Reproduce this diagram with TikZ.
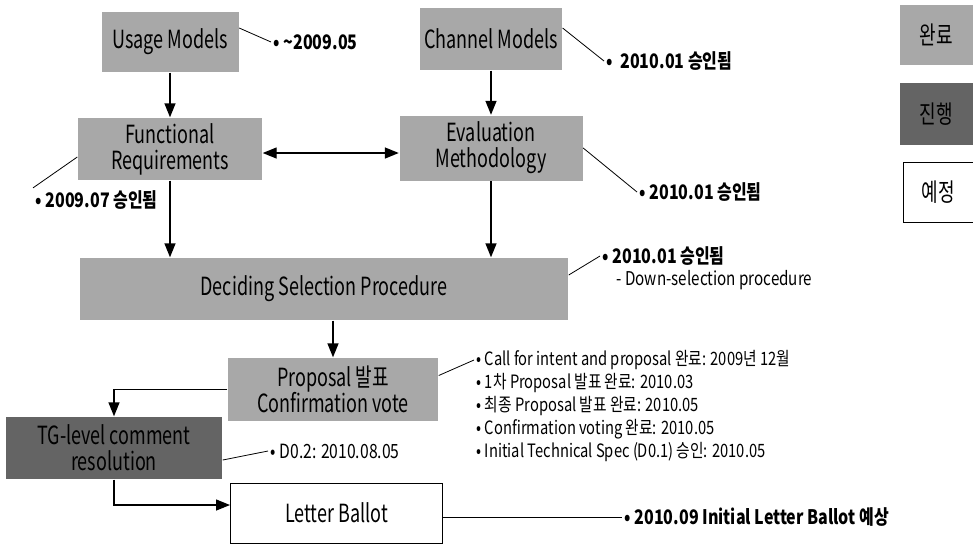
\documentclass[tikz,border=0pt]{standalone}
\usepackage{fontspec}
\setmainfont{Noto Sans CJK KR}[FakeStretch=0.8]
\newfontfamily\boxfont{Noto Sans CJK KR}[FakeStretch=0.72]
\usepackage{tikz}
\usetikzlibrary{arrows.meta, positioning, calc}
\definecolor{donegray}{RGB}{168,168,168}
\definecolor{doinggray}{RGB}{100,100,100}

\begin{document}
\begin{tikzpicture}[x=0.5pt, y=-0.5pt, >={Triangle[length=7pt, width=5.5pt]},
      line width=0.7pt,
      box/.style={rectangle, inner sep=2pt, align=center,
                  font=\boxfont\fontsize{12.5}{13}\selectfont},
      done/.style={box, fill=donegray},
      doing/.style={box, fill=doinggray},
      todo/.style={box, draw=black, line width=0.5pt, fill=white},
      note/.style={anchor=west, inner sep=1pt, font=\fontsize{10}{12}\selectfont\bfseries},
      item/.style={anchor=west, inner sep=1pt, font=\fontsize{9.2}{10}\selectfont},
      lead/.style={line width=0.4pt}]

    \useasboundingbox (0,0) rectangle (973,543);

    % stages
    \node[done, minimum width=68.5pt, minimum height=30pt] (UM) at (170,42) {Usage Models};
    \node[done, minimum width=69pt, minimum height=31pt] (CM) at (491,39) {Channel Models};
    \node[done, minimum width=92pt, minimum height=31pt] (FR) at (170,149) {Functional\\Requirements};
    \node[done, minimum width=91.5pt, minimum height=32.5pt] (EM) at (491,148) {Evaluation\\Methodology};
    \node[done, minimum width=244pt, minimum height=31pt] (DSP) at (324,289) {Deciding Selection Procedure};
    \node[done, minimum width=105pt, minimum height=31.5pt] (PV) at (333,389.5) {Proposal 발표\\Confirmation vote};
    \node[doing, minimum width=108pt, minimum height=31pt] (TG) at (114,448) {TG-level comment\\resolution};
    \node[todo, minimum width=106pt, minimum height=30pt] (LB) at (336.5,513) {Letter Ballot};

    % legend
    \node[done, minimum width=36.5pt, minimum height=30pt] (L1) at (936.5,35) {완료};
    \node[doing, minimum width=36.5pt, minimum height=31pt] (L2) at (936.5,114) {진행};
    \node[todo, minimum width=35pt, minimum height=30pt] (L3) at (938,192) {예정};

    \draw[->] (UM) -- (FR);
    \draw[->] (CM) -- (EM);
    \draw[<->] ([yshift=-2pt]FR.east) -- ([yshift=-2pt]FR.east -| EM.west);
    \draw[->] (FR.south) -- (FR.south |- DSP.north);
    \draw[->] (EM.south) -- (EM.south |- DSP.north);
    \draw[->] (PV.north |- DSP.south) -- (PV.north);
    \draw[->] (PV.west) -| (TG.north);
    \draw[->] (TG.south) |- ([yshift=4pt]LB.west);

    % notes
    \node[note] (UMn) at (271,42) {• \textasciitilde 2009.05};
    \node[note] (CMn) at (604,61) {•\ \ 2010.01 승인됨};
    \node[note] (FRn) at (33,200) {• 2009.07 승인됨};
    \node[note] (EMn) at (637,192) {• 2010.01 승인됨};
    \node[note] (DSPn) at (600,256) {• 2010.01 승인됨};
    \node[item, font=\fontsize{9.5}{11}\selectfont, anchor=north west]
         (DSPm) at ([xshift=7pt]DSPn.south west) {- Down-selection procedure};
    \node[item] (PV1) at (474,360) {• Call for intent and proposal 완료: 2009년 12월};
    \node[item] (PV2) at (474,383) {• 1차 Proposal 발표 완료: 2010.03};
    \node[item] (PV3) at (474,406) {• 최종 Proposal 발표 완료: 2010.05};
    \node[item] (PV4) at (474,429) {• Confirmation voting 완료: 2010.05};
    \node[item] (PV5) at (474,452) {• Initial Technical Spec (D0.1) 승인: 2010.05};
    \node[item, font=\fontsize{9.8}{11}\selectfont] (TGn) at (268,451) {• D0.2: 2010.08.05};
    \node[note] (LBn) at (622,517) {• 2010.09 Initial Letter Ballot 예상};

    \draw[lead] ([yshift=7pt]UM.east) -- (UMn.west);
    \draw[lead] ([yshift=5.5pt]CM.east) -- (CMn.west);
    \draw[lead] ([yshift=-4pt]FR.west) -- (FRn.north west);
    \draw[lead] (EM.east) -- (EMn.west);
    \draw[lead] ([yshift=7pt]DSP.east) -- (DSPn.west);
    \draw[lead] ([yshift=7pt]PV.east) -- (PV1.west);
    \draw[lead] ([yshift=-6pt]TG.east) -- (TGn.west);
    \draw[lead] ([yshift=-2pt]LB.east) -- (LBn.west);
  \end{tikzpicture}
\end{document}
